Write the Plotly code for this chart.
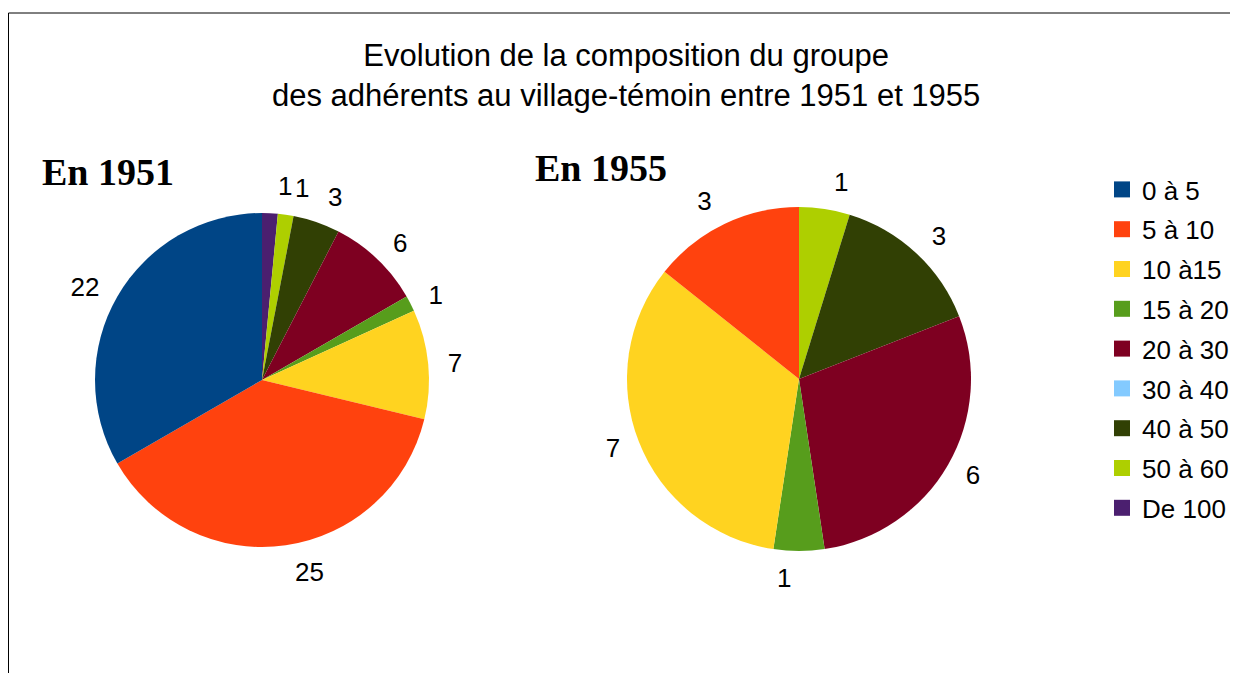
import plotly.graph_objects as go

categories = ["0 à 5", "5 à 10", "10 à15", "15 à 20", "20 à 30", "30 à 40", "40 à 50", "50 à 60", "De 100"]
values_1951 = [22, 25, 7, 1, 6, 0, 3, 1, 1]
values_1955 = [0, 3, 7, 1, 6, 0, 3, 1, 0]
colors = ["#004586", "#ff420e", "#ffd320", "#579d1c", "#7e0021", "#83caff", "#314004", "#aecf00", "#4b1f6f"]

W, H = 1238, 673
LABEL_FONT = dict(family="Liberation Sans, Arial, sans-serif", size=26, color="black")

def dom(cx, cy, r):
    return dict(x=[(cx - r) / W, (cx + r) / W], y=[1 - (cy + r) / H, 1 - (cy - r) / H])

fig = go.Figure()

# slices drawn clockwise from 12 o'clock, in reverse legend order (as in the original)
for vals, (cx, cy, r) in [(values_1951, (254, 372, 167)), (values_1955, (791, 371, 172))]:
    labs = categories[::-1]
    v = vals[::-1]
    cols = colors[::-1]
    fig.add_trace(go.Pie(
        labels=labs, values=v, sort=False, direction="clockwise", rotation=0,
        marker=dict(colors=cols, line=dict(width=0)),
        textinfo="none", showlegend=False, hoverinfo="label+value",
        domain=dom(cx, cy, r), automargin=False,
    ))
    # transparent twin pies, slightly larger, each carrying one value label further out
    # (one twin per slice so neighbouring small slices keep their labels side by side)
    for k, val in enumerate(v):
        if not val:
            continue
        fig.add_trace(go.Pie(
            labels=labs, values=v, sort=False, direction="clockwise", rotation=0,
            marker=dict(colors=["rgba(0,0,0,0)"] * len(v), line=dict(width=0)),
            text=[str(x) for x in v], textinfo="text",
            textposition=["outside" if i == k else "none" for i in range(len(v))],
            outsidetextfont=LABEL_FONT, showlegend=False, hoverinfo="skip",
            domain=dom(cx, cy, r + 12), automargin=False,
        ))

for cat, col in zip(categories, colors):
    fig.add_trace(go.Scatter(
        x=[None], y=[None], mode="markers", name=cat, legendgroup=cat,
        marker=dict(symbol="square", size=16, color=col), showlegend=True,
    ))

fig.update_layout(
    width=W, height=H, margin=dict(l=0, r=0, t=0, b=0),
    paper_bgcolor="white", plot_bgcolor="white",
    font=dict(family="Liberation Sans, Arial, sans-serif", color="black"),
    xaxis=dict(visible=False), yaxis=dict(visible=False),
    legend=dict(x=1094 / W, y=1 - 158 / H, xanchor="left", yanchor="top",
                font=dict(size=26, color="black"), tracegroupgap=3,
                bgcolor="rgba(0,0,0,0)", itemclick=False),
    shapes=[dict(type="rect", xref="paper", yref="paper", x0=0.5 / W, x1=1.02, y0=-0.02, y1=1 - 5 / H,
                 line=dict(color="black", width=1))],
    annotations=[
        dict(text="Evolution de la composition du groupe<br>des adhérents au village-témoin entre 1951 et 1955",
             x=618 / W, y=1 - 68 / H, xref="paper", yref="paper", showarrow=False,
             xanchor="center", yanchor="middle",
             font=dict(size=31, color="black"), align="center"),
        dict(text="<b>En 1951</b>", x=32 / W, y=1 - 164 / H, xref="paper", yref="paper",
             xanchor="left", yanchor="middle",
             showarrow=False, font=dict(family="Liberation Serif, Times New Roman, serif", size=38, color="black")),
        dict(text="<b>En 1955</b>", x=525 / W, y=1 - 160 / H, xref="paper", yref="paper",
             xanchor="left", yanchor="middle",
             showarrow=False, font=dict(family="Liberation Serif, Times New Roman, serif", size=38, color="black")),
    ],
)

fig.write_html("out.html")
